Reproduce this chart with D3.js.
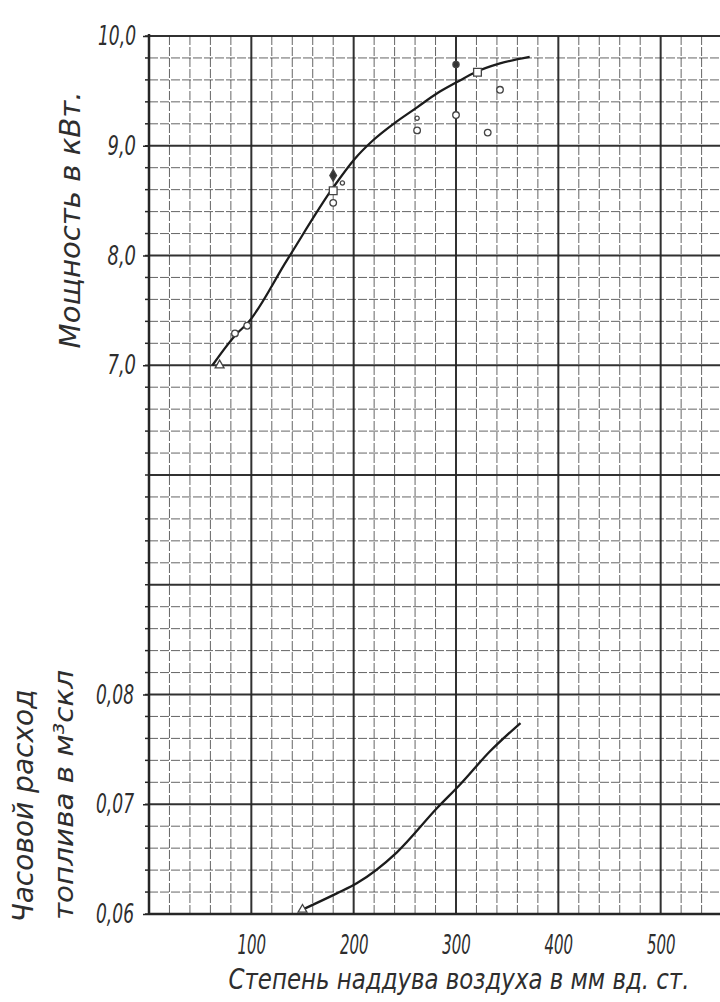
<!DOCTYPE html>
<html>
<head>
<meta charset="utf-8">
<script src="https://cdn.jsdelivr.net/npm/d3@7"></script>
<style>
  body { margin: 0; background: #fff; }
  svg { display: block; }
  text { font-family: "Liberation Sans Narrow", "DejaVu Sans Condensed", "Liberation Sans", sans-serif; font-style: italic; fill: #2e2e2e; }
</style>
</head>
<body>
<div id="chart"></div>
<script>
// power curve (upper panel), kW vs boost pressure, mm water column
const powerX = [62, 86, 96, 135, 180, 201, 219, 239, 262, 282, 301, 319, 343, 372];
const powerY = [7.0, 7.29, 7.38, 7.96, 8.62, 8.88, 9.05, 9.20, 9.35, 9.48, 9.58, 9.67, 9.75, 9.81];

// measured points scattered around the power curve
const pointX = [69, 84, 96, 180, 180, 180, 189, 262, 262, 300, 300, 321, 343, 331];
const pointY = [7.0, 7.29, 7.36, 8.59, 8.73, 8.48, 8.66, 9.14, 9.25, 9.74, 9.28, 9.67, 9.51, 9.12];
const pointShape = ['triangle', 'circle', 'circle', 'square', 'diamond', 'circle', 'small', 'circle', 'small', 'dot', 'circle', 'square', 'circle', 'circle'];

// hourly fuel consumption (lower panel)
const fuelX = [150, 184, 203, 242, 282, 304, 333, 363];
const fuelY = [0.0604, 0.0619, 0.0628, 0.0656, 0.0697, 0.0718, 0.0748, 0.0774];

const xTicks = [100, 200, 300, 400, 500];
const powerTicks = [7, 8, 9, 10];
const fuelTicks = [0.06, 0.07, 0.08];

const width = 720;
const height = 1002;
const ink = '#262626';

const x = d3.scaleLinear().domain([0, 600]).range([149, 763]);
// the graph paper spans 8 heavy rows; power scale covers it from 2 to 10
const yPower = d3.scaleLinear().domain([2, 10]).range([914, 36]);
const yFuel = d3.scaleLinear().domain([0.06, 0.08]).range([914, 694.5]);

const ru = d3.formatLocale({ decimal: ',', thousands: ' ', grouping: [3], currency: ['', ''] });
const isWhole = d => Math.abs(d - Math.round(d)) < 1e-6;

const svg = d3.select('#chart').append('svg')
  .attr('width', width)
  .attr('height', height);

svg.append('clipPath').attr('id', 'plot')
  .append('rect').attr('x', 149).attr('y', 30).attr('width', width - 149).attr('height', 890);

const grid = svg.append('g').attr('clip-path', 'url(#plot)');

// vertical graph-paper lines every 20 units, heavy every 100
grid.selectAll('.vline')
  .data(d3.range(0, 601, 20))
  .enter().append('line')
  .attr('class', 'vline')
  .attr('x1', d => x(d)).attr('x2', d => x(d))
  .attr('y1', yPower(10)).attr('y2', yPower(2))
  .style('stroke', ink)
  .style('stroke-width', d => d % 100 === 0 ? 2 : 1)
  .style('stroke-dasharray', d => d % 100 === 0 ? null : '9,2')
  .style('opacity', d => d % 100 === 0 ? 0.95 : 0.7);

// horizontal lines every 0.2 kW, heavy on whole units
grid.selectAll('.hline')
  .data(d3.range(0, 41).map(i => 2 + i * 0.2))
  .enter().append('line')
  .attr('class', 'hline')
  .attr('x1', x(0)).attr('x2', x(600))
  .attr('y1', d => yPower(d)).attr('y2', d => yPower(d))
  .style('stroke', ink)
  .style('stroke-width', d => isWhole(d) ? 2 : 1)
  .style('stroke-dasharray', d => isWhole(d) ? null : '9,2')
  .style('opacity', d => isWhole(d) ? 0.95 : 0.7);

// frame: left axis and bottom line
svg.append('line')
  .attr('x1', x(0)).attr('x2', x(0))
  .attr('y1', yPower(10) - 2).attr('y2', yPower(2))
  .style('stroke', ink).style('stroke-width', 2.5);
svg.append('line')
  .attr('x1', x(0)).attr('x2', width)
  .attr('y1', yPower(2)).attr('y2', yPower(2))
  .style('stroke', ink).style('stroke-width', 2.5);

// small outward ticks on the left edge
svg.selectAll('.ltick')
  .data(d3.range(0, 41).map(i => 2 + i * 0.2))
  .enter().append('line')
  .attr('class', 'ltick')
  .attr('x1', x(0) - 4).attr('x2', x(0))
  .attr('y1', d => yPower(d)).attr('y2', d => yPower(d))
  .style('stroke', ink).style('stroke-width', 1.5);

// axes
const axisPower = svg.append('g')
  .attr('transform', `translate(${x(0)},0)`)
  .call(d3.axisLeft(yPower).tickValues(powerTicks).tickSize(6).tickPadding(7).tickFormat(ru.format('.1f')));
const axisFuel = svg.append('g')
  .attr('transform', `translate(${x(0)},0)`)
  .call(d3.axisLeft(yFuel).tickValues(fuelTicks).tickSize(6).tickPadding(9).tickFormat(ru.format('.2f')));
const axisX = svg.append('g')
  .attr('transform', `translate(0,${yPower(2)})`)
  .call(d3.axisBottom(x).tickValues(xTicks).tickSize(0).tickPadding(21));

[axisPower, axisFuel, axisX].forEach(a => {
  a.select('.domain').remove();
  a.selectAll('line').style('stroke', ink).style('stroke-width', 1.5);
  a.selectAll('text')
    .attr('fill', '#2e2e2e')
    .style('font-size', '27px')
    .style('font-family', '"Liberation Sans Narrow", "DejaVu Sans Condensed", sans-serif')
    .style('font-style', 'italic')
    .attr('lengthAdjust', 'spacingAndGlyphs')
    .attr('textLength', function () { return this.textContent.length * 9.5; });
});

// curves
const powerLine = d3.line()
  .x((d, i) => x(powerX[i]))
  .y(d => yPower(d))
  .curve(d3.curveMonotoneX);
const fuelLine = d3.line()
  .x((d, i) => x(fuelX[i]))
  .y(d => yFuel(d))
  .curve(d3.curveMonotoneX);

svg.append('path')
  .attr('d', powerLine(powerY))
  .style('fill', 'none').style('stroke', '#1c1c1c').style('stroke-width', 2.3);
svg.append('path')
  .attr('d', fuelLine(fuelY))
  .style('fill', 'none').style('stroke', '#1c1c1c').style('stroke-width', 2.3);

// measured points
const symbols = {
  circle: d3.symbolCircle,
  small: d3.symbolCircle,
  square: d3.symbolSquare,
  diamond: d3.symbolDiamond,
  triangle: d3.symbolTriangle,
  dot: d3.symbolCircle,
};
const symSize = { circle: 34, small: 14, square: 60, diamond: 40, triangle: 34, dot: 30 };
svg.selectAll('.pt')
  .data(pointY)
  .enter().append('path')
  .attr('class', 'pt')
  .attr('transform', (d, i) => `translate(${x(pointX[i])},${yPower(d)})`)
  .attr('d', (d, i) => d3.symbol().type(symbols[pointShape[i]]).size(symSize[pointShape[i]])())
  .style('fill', (d, i) => pointShape[i] === 'dot' || pointShape[i] === 'diamond' ? '#333' : '#fff')
  .style('stroke', '#444')
  .style('stroke-width', 1.3);

svg.append('path')
  .attr('transform', `translate(${x(fuelX[0])},${yFuel(fuelY[0])})`)
  .attr('d', d3.symbol().type(d3.symbolTriangle).size(34)())
  .style('fill', '#fff').style('stroke', '#444').style('stroke-width', 1.3);

// axis titles
svg.append('text')
  .attr('transform', 'translate(80,220) rotate(-90)')
  .attr('text-anchor', 'middle')
  .style('font-size', '28px')
  .attr('textLength', 257).attr('lengthAdjust', 'spacingAndGlyphs')
  .text('Мощность в кВт.');

svg.append('text')
  .attr('transform', 'translate(33,806) rotate(-90)')
  .attr('text-anchor', 'middle')
  .style('font-size', '28px')
  .attr('textLength', 233).attr('lengthAdjust', 'spacingAndGlyphs')
  .text('Часовой расход');

svg.append('text')
  .attr('transform', 'translate(73,795) rotate(-90)')
  .attr('text-anchor', 'middle')
  .style('font-size', '26px')
  .attr('textLength', 250).attr('lengthAdjust', 'spacingAndGlyphs')
  .text('топлива в м³скл');

// squeeze horizontally with a transform so the box stays inside the page
svg.append('text')
  .attr('transform', 'translate(459,989) scale(0.91,1)')
  .attr('text-anchor', 'middle')
  .style('font-size', '28px')
  .text('Степень наддува воздуха в мм вд. ст.');
</script>
</body>
</html>
